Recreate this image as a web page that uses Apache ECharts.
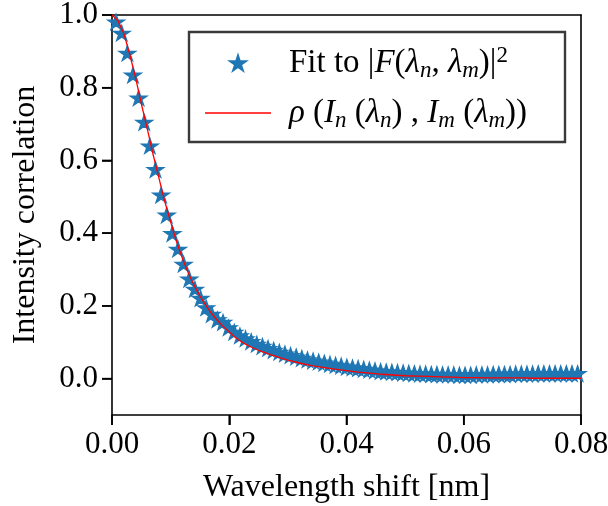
<!DOCTYPE html>
<html>
<head>
<meta charset="utf-8">
<script src="https://cdn.jsdelivr.net/npm/echarts@6/dist/echarts.min.js"></script>
<style>
  html, body { margin: 0; padding: 0; background: #ffffff; }
  #chart { width: 608px; height: 506px; }
</style>
</head>
<body>
<div id="chart"></div>
<script>
// Wavelength shift of each fitted sample [nm]
const shiftNm = [
  0.00070, 0.00166, 0.00262, 0.00358, 0.00454, 0.00550, 0.00646, 0.00742, 0.00838, 0.00934,
  0.01030, 0.01126, 0.01222, 0.01318, 0.01414, 0.01510, 0.01606, 0.01702, 0.01798, 0.01894,
  0.01990, 0.02086, 0.02182, 0.02278, 0.02374, 0.02470, 0.02566, 0.02662, 0.02758, 0.02854,
  0.02950, 0.03046, 0.03142, 0.03238, 0.03334, 0.03430, 0.03526, 0.03622, 0.03718, 0.03814,
  0.03910, 0.04006, 0.04102, 0.04198, 0.04294, 0.04390, 0.04486, 0.04582, 0.04678, 0.04774,
  0.04870, 0.04966, 0.05062, 0.05158, 0.05254, 0.05350, 0.05446, 0.05542, 0.05638, 0.05734,
  0.05830, 0.05926, 0.06022, 0.06118, 0.06214, 0.06310, 0.06406, 0.06502, 0.06598, 0.06694,
  0.06790, 0.06886, 0.06982, 0.07078, 0.07174, 0.07270, 0.07366, 0.07462, 0.07558, 0.07654,
  0.07750, 0.07846, 0.07942
];

// Fitted |F|^2 correlation at each shift
const fitValues = [
  0.981, 0.950, 0.895, 0.835, 0.772, 0.705, 0.640, 0.575, 0.505, 0.450,
  0.399, 0.356, 0.315, 0.274, 0.246, 0.221, 0.195, 0.177, 0.162, 0.155,
  0.140, 0.128, 0.118, 0.110, 0.102, 0.095, 0.089, 0.083, 0.078, 0.073,
  0.068, 0.064, 0.060, 0.056, 0.052, 0.049, 0.046, 0.043, 0.040, 0.037,
  0.035, 0.032, 0.030, 0.028, 0.026, 0.024, 0.022, 0.020, 0.019, 0.018,
  0.017, 0.016, 0.015, 0.014, 0.013, 0.013, 0.012, 0.012, 0.011, 0.011,
  0.011, 0.010, 0.010, 0.010, 0.011, 0.011, 0.011, 0.012, 0.012, 0.012,
  0.012, 0.013, 0.013, 0.013, 0.013, 0.014, 0.014, 0.014, 0.014, 0.014,
  0.014, 0.014, 0.014
];

// Measured intensity correlation rho(I_n, I_m)
const rhoShift = [
  0.000, 0.001, 0.002, 0.003, 0.004, 0.005, 0.006, 0.007, 0.008, 0.009,
  0.010, 0.011, 0.012, 0.013, 0.014, 0.015, 0.016, 0.017, 0.018, 0.019,
  0.020, 0.021, 0.022, 0.023, 0.024, 0.025, 0.026, 0.027, 0.028, 0.029,
  0.030, 0.032, 0.034, 0.036, 0.038, 0.040, 0.042, 0.044, 0.046, 0.048,
  0.050, 0.052, 0.054, 0.056, 0.058, 0.060, 0.062, 0.064, 0.066, 0.068,
  0.070, 0.072, 0.074, 0.076, 0.078, 0.080
];
const rhoValues = [
  1.000, 0.985, 0.950, 0.893, 0.829, 0.756, 0.688, 0.617, 0.552, 0.487,
  0.431, 0.377, 0.331, 0.291, 0.257, 0.227, 0.202, 0.179, 0.160, 0.143,
  0.128, 0.114, 0.102, 0.093, 0.085, 0.078, 0.072, 0.066, 0.061, 0.056,
  0.051, 0.043, 0.036, 0.031, 0.026, 0.022, 0.018, 0.015, 0.012, 0.010,
  0.008, 0.007, 0.006, 0.005, 0.004, 0.003, 0.003, 0.002, 0.002, 0.002,
  0.002, 0.001, 0.001, 0.001, 0.001, 0.001
];

const xTicks = [0.00, 0.02, 0.04, 0.06, 0.08];
const yTicks = [0.0, 0.2, 0.4, 0.6, 0.8, 1.0];
const X_MIN = 0, X_MAX = 0.08, Y_MIN = -0.1, Y_MAX = 1.0;

const SERIF = '"Liberation Serif", "DejaVu Serif", serif';
const BLUE = '#1f77b4';
const STAR = 'path://M0,-100 L22.45,-30.9 L95.1,-30.9 L36.33,11.8 L58.8,80.9 L0,38.2 L-58.8,80.9 L-36.33,11.8 L-95.1,-30.9 L-22.45,-30.9 Z';
const TICK_LEN = 10;

const chart = echarts.init(document.getElementById('chart'), null, { renderer: 'canvas' });

// Legend math: italic symbols with lowered subscripts and a raised exponent
const sub = { fontFamily: SERIF, fontStyle: 'italic', fontSize: 23, lineHeight: 23, padding: [16, 0, 0, 0], verticalAlign: 'bottom' };
const sup = { fontFamily: SERIF, fontSize: 23, lineHeight: 23, padding: [0, 0, 16, 0], verticalAlign: 'top' };
const roman = { fontFamily: SERIF, fontSize: 33, lineHeight: 38 };
const ital = { fontFamily: SERIF, fontStyle: 'italic', fontSize: 33, lineHeight: 38 };

const legendText = {
  fit: '{gap|}{r|Fit to |}{i|F}{r|(}{i|λ}{s|n}{r|, }{i|λ}{s|m}{r|)|}{p|2}',
  rho: '{gap|}{i|ρ}{r| (}{i|I}{s|n}{r| (}{i|λ}{s|n}{r|) , }{i|I}{s|m}{r| (}{i|λ}{s|m}{r|))}'
};

const legendRich = {
  gap: { width: 13 },
  r: roman, i: ital, s: sub, p: sup
};

const axisFont = { fontFamily: SERIF, fontSize: 31, color: '#000' };
const frameLine = () => ({ color: '#000', width: 1.6 });

// Plain frame edges (top and right) with no ticks or labels
const frameAxis = () => ({
  show: true,
  axisLine: { show: true, onZero: false, lineStyle: frameLine() },
  axisTick: { show: false },
  axisLabel: { show: false },
  splitLine: { show: false }
});

// Outward tick marks, placed through the axes' own scales
function renderTick(params, api) {
  const vertical = api.value(2) === 1;
  const p = api.coord([api.value(0), api.value(1)]);
  const shape = vertical
    ? { x1: p[0], y1: p[1], x2: p[0], y2: p[1] + TICK_LEN }
    : { x1: p[0], y1: p[1], x2: p[0] - TICK_LEN, y2: p[1] };
  return {
    type: 'line',
    shape: shape,
    style: { stroke: '#000', lineWidth: 1.6 }
  };
}
const tickData = xTicks.map(v => [v, Y_MIN, 1]).concat(yTicks.map(v => [X_MIN, v, 0]));

const option = {
  animation: false,
  grid: { left: 112, right: 27, top: 15, bottom: 91, outerBoundsMode: 'none' },
  xAxis: [
    {
      type: 'value', min: X_MIN, max: X_MAX, interval: 0.02,
      name: 'Wavelength shift [nm]', nameLocation: 'middle', nameGap: 57,
      nameTextStyle: { fontFamily: SERIF, fontSize: 32, color: '#000' },
      axisLine: { show: true, onZero: true, onZeroAxisIndex: 1, lineStyle: frameLine() },
      axisTick: { show: true, length: TICK_LEN, lineStyle: frameLine() },
      axisLabel: Object.assign({ margin: 14, formatter: v => v.toFixed(2) }, axisFont),
      splitLine: { show: false }
    },
    Object.assign({ type: 'value', min: X_MIN, max: X_MAX, position: 'top' }, frameAxis())
  ],
  yAxis: [
    {
      type: 'value', min: Y_MIN, max: Y_MAX,
      name: 'Intensity correlation', nameLocation: 'middle', nameGap: 70, nameRotate: 90,
      nameTextStyle: { fontFamily: SERIF, fontSize: 32, color: '#000' },
      axisLine: { show: true, lineStyle: frameLine() },
      axisTick: { show: true, length: TICK_LEN, customValues: yTicks, lineStyle: frameLine() },
      axisLabel: Object.assign({ margin: 14, customValues: yTicks, formatter: v => v.toFixed(1) }, axisFont),
      splitLine: { show: false }
    },
    // scale whose zero sits on the bottom edge, so the x axis stays there
    { type: 'value', min: 0, max: Y_MAX - Y_MIN, show: false },
    Object.assign({ type: 'value', min: Y_MIN, max: Y_MAX, position: 'right' }, frameAxis())
  ],
  legend: {
    orient: 'vertical', left: 200, top: 38, itemGap: 10, z: 10,
    itemWidth: 66, itemHeight: 15, symbolKeepAspect: true,
    data: [
      { name: 'fit', icon: STAR },
      { name: 'rho', icon: 'path://M0,0 L66,0 L66,1.3 L0,1.3 Z' }
    ],
    formatter: name => legendText[name],
    textStyle: { color: '#000', rich: legendRich },
    selectedMode: false
  },
  graphic: [{
    type: 'rect', z: 1,
    shape: { x: 189, y: 32, width: 376, height: 110 },
    style: { fill: '#ffffff', stroke: '#3a3a3a', lineWidth: 2.4 }
  }],
  series: [
    {
      name: 'fit', type: 'scatter',
      data: shiftNm.map((x, i) => [x, fitValues[i]]),
      symbol: STAR, symbolSize: [16, 15.2], symbolKeepAspect: true,
      itemStyle: { color: BLUE, borderColor: BLUE, borderWidth: 1.5, opacity: 1 },
      z: 2
    },
    {
      name: 'rho', type: 'line',
      data: rhoShift.map((x, i) => [x, rhoValues[i]]),
      symbol: 'none', showSymbol: false, smooth: false,
      lineStyle: { color: '#ff0000', width: 1.3 },
      itemStyle: { color: '#ff0000' },
      z: 3
    },
    {
      name: 'ticks', type: 'custom',
      data: tickData,
      renderItem: renderTick,
      clip: false, silent: true, z: 6,
      tooltip: { show: false }
    }
  ]
};

chart.setOption(option);
</script>
</body>
</html>
